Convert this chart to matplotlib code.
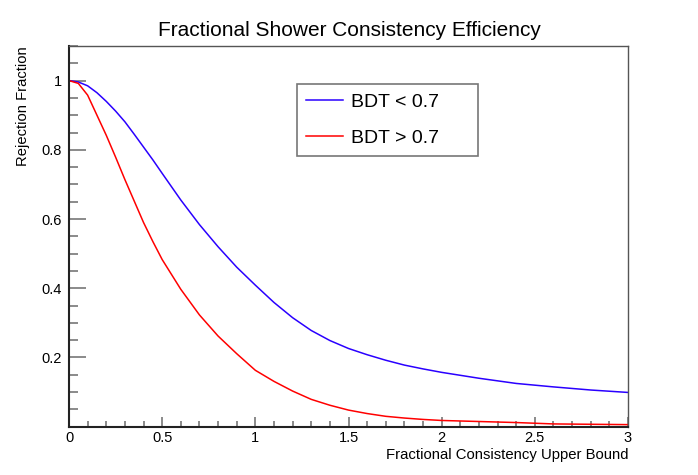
import matplotlib
matplotlib.use("Agg")
import matplotlib.pyplot as plt
from matplotlib.ticker import MultipleLocator, FixedLocator, FixedFormatter

# ---- data ----
x_low = [0.0, 0.05, 0.1, 0.15, 0.2, 0.25, 0.3, 0.35, 0.4, 0.45, 0.5, 0.6, 0.7, 0.8,
         0.9, 1.0, 1.1, 1.2, 1.3, 1.4, 1.5, 1.6, 1.7, 1.8, 1.9, 2.0, 2.2, 2.4, 2.6,
         2.8, 3.0]
y_low = [1.0, 0.996, 0.985, 0.965, 0.940, 0.912, 0.881, 0.845, 0.808, 0.771, 0.732,
         0.655, 0.584, 0.520, 0.461, 0.409, 0.359, 0.315, 0.278, 0.249, 0.226, 0.208,
         0.192, 0.178, 0.167, 0.157, 0.140, 0.125, 0.115, 0.106, 0.099]

x_high = [0.0, 0.05, 0.1, 0.15, 0.2, 0.25, 0.3, 0.35, 0.4, 0.45, 0.5, 0.6, 0.7, 0.8,
          0.9, 1.0, 1.1, 1.2, 1.3, 1.4, 1.5, 1.6, 1.7, 1.8, 1.9, 2.0, 2.2, 2.4, 2.6,
          2.8, 3.0]
y_high = [1.0, 0.992, 0.958, 0.900, 0.842, 0.779, 0.714, 0.652, 0.590, 0.535, 0.483,
          0.397, 0.323, 0.262, 0.211, 0.163, 0.131, 0.103, 0.079, 0.062, 0.048, 0.038,
          0.030, 0.025, 0.021, 0.018, 0.015, 0.012, 0.008, 0.007, 0.006]

labels = ["BDT < 0.7", "BDT > 0.7"]
title = "Fractional Shower Consistency Efficiency"
xlabel = "Fractional Consistency Upper Bound"
ylabel = "Rejection Fraction"
xticks = [0, 0.5, 1, 1.5, 2, 2.5, 3]
xticklabels = ["0", "0.5", "1", "1.5", "2", "2.5", "3"]
yticks = [0.2, 0.4, 0.6, 0.8, 1.0]
yticklabels = ["0.2", "0.4", "0.6", "0.8", "1"]

plt.rcParams['font.family'] = ['Liberation Sans', 'DejaVu Sans']

W, H = 698, 475
fig = plt.figure(figsize=(W / 100, H / 100), dpi=100)
left, right, top, bottom = 69, 628, 46, 426.7
ax = fig.add_axes([left / W, 1 - bottom / H, (right - left) / W, (bottom - top) / H])

l1, = ax.plot(x_low, y_low, color='#2a00ff', lw=1.1, label=labels[0])
l2, = ax.plot(x_high, y_high, color='#ff0000', lw=1.1, label=labels[1])

ax.set_xlim(0, 3)
ax.set_ylim(0, 1.1)

ax.xaxis.set_major_locator(FixedLocator(xticks))
ax.xaxis.set_major_formatter(FixedFormatter(xticklabels))
ax.xaxis.set_minor_locator(MultipleLocator(0.1))
ax.yaxis.set_major_locator(FixedLocator(yticks))
ax.yaxis.set_major_formatter(FixedFormatter(yticklabels))
ax.yaxis.set_minor_locator(MultipleLocator(0.05))

ax.tick_params(axis='both', which='both', direction='in', colors='#777777',
               labelcolor='black', labelsize=10.5, width=1.2)
ax.tick_params(axis='x', which='major', length=7.5, pad=3)
ax.tick_params(axis='x', which='minor', length=4)
ax.tick_params(axis='y', which='major', length=12.5, pad=5)
ax.tick_params(axis='y', which='minor', length=6.3)

for s in ['left', 'bottom']:
    ax.spines[s].set_color('#222222')
    ax.spines[s].set_linewidth(1.5)
for s in ['top', 'right']:
    ax.spines[s].set_color('#555555')
    ax.spines[s].set_linewidth(1.0)

fig.text(349 / W, 1 - 30 / H, title, ha='center', va='center', fontsize=15)
fig.text(628 / W, 1 - 459 / H, xlabel, ha='right', va='baseline', fontsize=10.7)
fig.text(23 / W, 1 - 46 / H, ylabel, ha='center', va='top', rotation=90, fontsize=10.6)

pw, ph = right - left, bottom - top
lx0, lx1, ly0, ly1 = 297, 478, 84, 155
leg = ax.legend(handles=[l1, l2], loc='upper left',
                bbox_to_anchor=((lx0 - left) / pw, (bottom - ly1) / ph,
                                (lx1 - lx0) / pw, (ly1 - ly0) / ph),
                mode='expand', fontsize=14, frameon=True, fancybox=False,
                borderaxespad=0, handlelength=1.9, handletextpad=0.42,
                labelspacing=0.95, borderpad=0.48)
leg.get_frame().set_edgecolor('#555555')
leg.get_frame().set_linewidth(1.2)

fig.savefig('out.png', dpi=100)
